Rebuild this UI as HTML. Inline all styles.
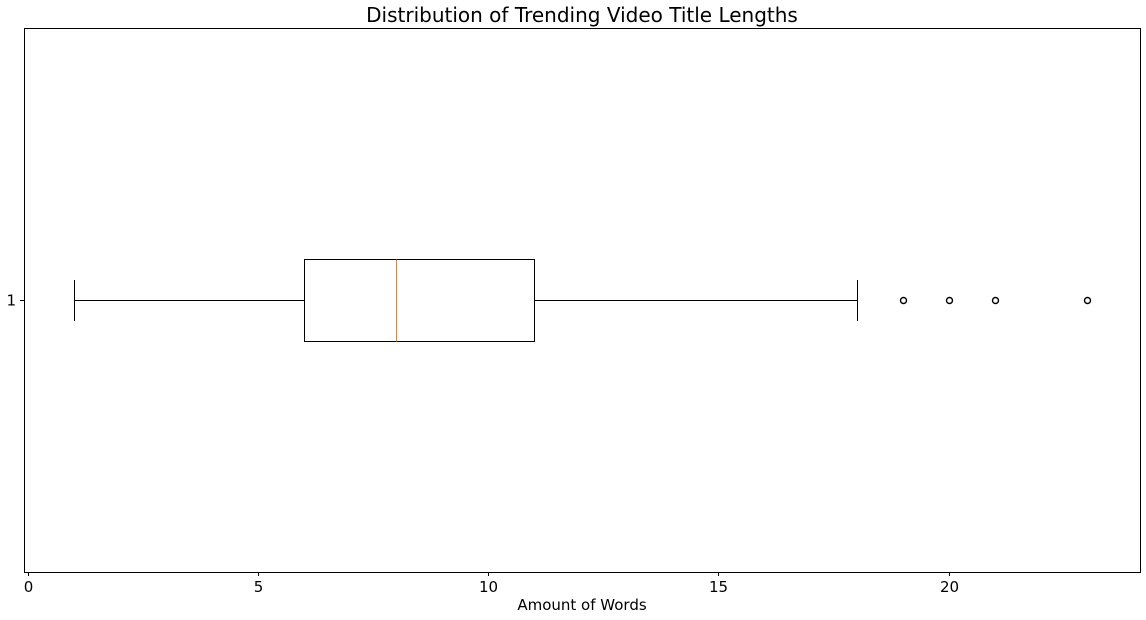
<!DOCTYPE html>
<html><head><meta charset="utf-8"><style>
body{margin:0;background:#fff}
svg{display:block;font-family:"DejaVu Sans","Liberation Sans",sans-serif}
</style></head><body>
<svg id="c" width="1146" height="620" xmlns="http://www.w3.org/2000/svg">
<text x="582" y="22" font-size="20" text-anchor="middle">Distribution of Trending Video Title Lengths</text>
<text x="582" y="610" font-size="15" text-anchor="middle">Amount of Words</text>
<g id="g"></g>
</svg>
<script>
const xTicks=[0,5,10,15,20];
const stats=[1,6,8,11,18]; // whisker low, q1, median, q3, whisker high
const outliers=[19,20,21,23];
const categories=["1"];
const L=24,R=1140,T=28,B=572;
const x=v=>Math.floor(29.2+v*46.05)-0.5;
const yc=300.5;
const g=document.getElementById('g');
const NS="http://www.w3.org/2000/svg";
function mk(t,a){const e=document.createElementNS(NS,t);for(const k in a)e.setAttribute(k,a[k]);g.appendChild(e);return e;}
let e;
e=mk('rect',{x:L+.5,y:T+.5,width:R-L,height:B-T,fill:'none',stroke:'#000','stroke-width':1});


xTicks.forEach(v=>{
 e=mk('line',{x1:x(v),x2:x(v),y1:B,y2:B+4,stroke:'#000'});
 
 
 e=mk('text',{x:x(v),y:B+20,'font-size':15,'text-anchor':'middle'});e.textContent=v;
 
 
});
e=mk('line',{x1:L-4,x2:L,y1:yc,y2:yc,stroke:'#000'});


e=mk('text',{x:L-8,y:yc+5,'font-size':15,'text-anchor':'end'});e.textContent=categories[0];


const [lo,q1,med,q3,hi]=stats;
e=mk('line',{x1:x(lo),x2:x(q1),y1:yc,y2:yc,stroke:'#000'});


e=mk('line',{x1:x(q3),x2:x(hi),y1:yc,y2:yc,stroke:'#000'});


e=mk('line',{x1:x(lo),x2:x(lo),y1:280,y2:321,stroke:'#000'});


e=mk('line',{x1:x(hi),x2:x(hi),y1:280,y2:321,stroke:'#000'});


e=mk('rect',{x:x(q1),y:259.5,width:x(q3)-x(q1),height:82,fill:'none',stroke:'#000'});


e=mk('line',{x1:x(med),x2:x(med),y1:259.5,y2:341.5,stroke:'#ff7f0e'});


outliers.forEach(v=>{
 e=mk('circle',{cx:x(v),cy:yc,r:3,fill:'none',stroke:'#000','stroke-width':1.4});
 
 
});
</script>
</body></html>
